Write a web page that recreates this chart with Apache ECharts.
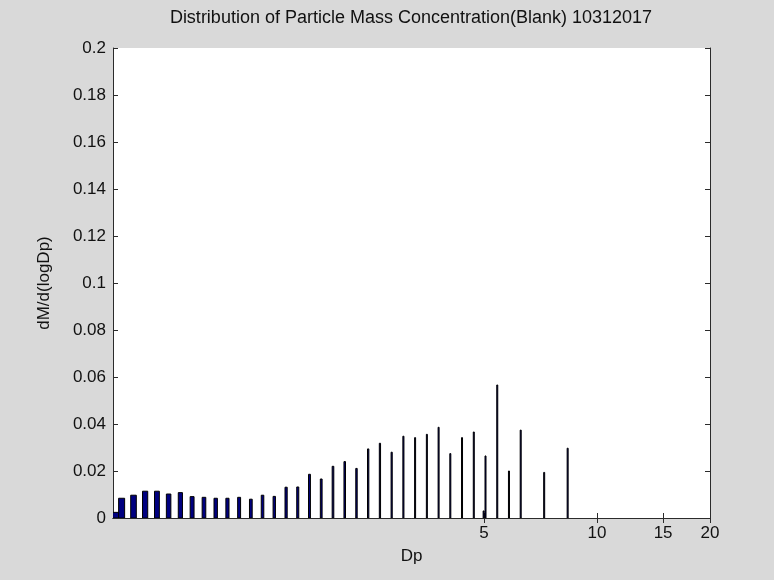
<!DOCTYPE html>
<html><head><meta charset="utf-8">
<script src="https://cdn.jsdelivr.net/npm/echarts@6/dist/echarts.min.js"></script>
<style>html,body{margin:0;padding:0;background:#d9d9d9}#c{width:774px;height:580px}</style>
</head><body><div id="c"></div>
<script>
const titleText = 'Distribution of Particle Mass Concentration(Blank) 10312017';
const xName = 'Dp';
const yName = 'dM/d(logDp)';
const dp = [0.523, 0.542, 0.583, 0.626, 0.673, 0.723, 0.777, 0.835, 0.898, 0.965,
  1.037, 1.114, 1.197, 1.286, 1.382, 1.486, 1.596, 1.715, 1.843, 1.981,
  2.129, 2.288, 2.458, 2.642, 2.839, 3.051, 3.278, 3.523, 3.786, 4.068,
  4.371, 4.698, 5.048, 5.425, 5.829, 6.264, 6.732, 7.234, 7.774, 8.354,
  8.977, 9.647, 10.37, 11.14, 11.97, 12.86, 13.82, 14.86, 15.96, 17.15, 18.43, 19.81];
const dmdlogdp = [0.0024, 0.0084, 0.0097, 0.0114, 0.0114, 0.0102, 0.0108, 0.0091, 0.0088, 0.0084,
  0.0084, 0.0088, 0.0080, 0.0097, 0.0092, 0.0131, 0.0132, 0.0186, 0.0166, 0.0220,
  0.0240, 0.0211, 0.0294, 0.0318, 0.0280, 0.0348, 0.0342, 0.0356, 0.0386, 0.0274,
  0.0342, 0.0366, 0.0264, 0.0566, 0.0200, 0.0374, 0, 0.0194, 0, 0.0297,
  0, 0, 0, 0, 0, 0, 0, 0, 0, 0, 0, 0];
const extraDp = [4.99];
const extraVal = [0.003];
const xTicks = [5, 10, 15, 20];

const BAR_W = 0.02; // bar width in data units (Dp)
const FONT = "'Liberation Sans', Arial, Helvetica, sans-serif";

function renderBar(params, api) {
  const x = api.value(0), y = api.value(1);
  if (!(y > 0)) return null;
  const a = api.coord([x - BAR_W / 2, y]);
  const b = api.coord([x + BAR_W / 2, 0]);
  let x0 = a[0], w = b[0] - a[0];
  if (w < 1) { x0 = (a[0] + b[0]) / 2 - 0.5; w = 1; }
  return {
    type: 'rect',
    shape: { x: x0, y: a[1], width: w, height: b[1] - a[1] },
    style: { fill: '#000080', stroke: '#000', lineWidth: 1 }
  };
}

const chart = echarts.init(document.getElementById('c'), null, { renderer: 'canvas' });
const axisCommon = {
  axisLine: { show: true, lineStyle: { color: '#2b2b2b', width: 1 } },
  splitLine: { show: false },
  minorTick: { show: false }
};
chart.setOption({
  backgroundColor: '#d9d9d9',
  animation: false,
  title: {
    text: titleText, left: 411, top: 9, textAlign: 'center', padding: 0,
    textStyle: { fontFamily: FONT, fontSize: 18, fontWeight: 'normal', color: '#111' }
  },
  grid: { left: 113, right: 64, top: 48, bottom: 62, show: true, backgroundColor: '#fff', borderWidth: 0 },
  xAxis: [
    Object.assign({}, axisCommon, {
      type: 'log', logBase: 10, min: 0.514, max: 20, position: 'bottom',
      axisTick: { show: true, inside: true, length: 5, customValues: xTicks, lineStyle: { color: '#2b2b2b' } },
      axisLabel: { customValues: xTicks, margin: 7, fontFamily: FONT, fontSize: 17, color: '#111' },
      name: xName, nameLocation: 'middle', nameGap: 30,
      nameTextStyle: { fontFamily: FONT, fontSize: 17, color: '#111' }
    }),
    Object.assign({}, axisCommon, {
      type: 'log', logBase: 10, min: 0.514, max: 20, position: 'top',
      axisTick: { show: true, inside: true, length: 5, customValues: xTicks, lineStyle: { color: '#2b2b2b' } },
      axisLabel: { show: false, customValues: xTicks }
    })
  ],
  yAxis: [
    Object.assign({}, axisCommon, {
      type: 'value', min: 0, max: 0.2, interval: 0.02, position: 'left',
      axisTick: { show: true, inside: true, length: 5, lineStyle: { color: '#2b2b2b' } },
      axisLabel: { margin: 7, fontFamily: FONT, fontSize: 17, color: '#111' },
      name: yName, nameLocation: 'middle', nameGap: 60,
      nameTextStyle: { fontFamily: FONT, fontSize: 17, color: '#111' }
    }),
    Object.assign({}, axisCommon, {
      type: 'value', min: 0, max: 0.2, interval: 0.02, position: 'right',
      axisTick: { show: true, inside: true, length: 5, lineStyle: { color: '#2b2b2b' } },
      axisLabel: { show: false }
    })
  ],
  series: [
    {
      type: 'custom', name: 'dM/d(logDp)', xAxisIndex: 0, yAxisIndex: 0, clip: true,
      renderItem: renderBar,
      encode: { x: 0, y: 1 },
      data: dp.map((d, i) => [d, dmdlogdp[i]])
    },
    {
      type: 'custom', name: 'extra', xAxisIndex: 0, yAxisIndex: 0, clip: true,
      renderItem: renderBar,
      encode: { x: 0, y: 1 },
      data: extraDp.map((d, i) => [d, extraVal[i]])
    }
  ]
});
</script></body></html>
